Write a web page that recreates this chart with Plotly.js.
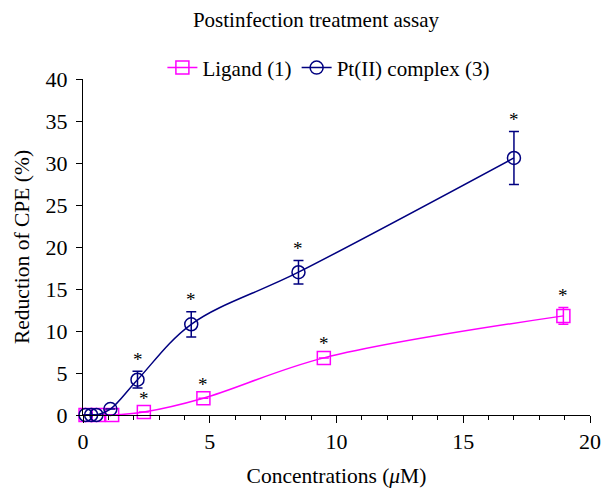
<!DOCTYPE html>
<html>
<head>
<meta charset="utf-8">
<script src="https://cdn.plot.ly/plotly-3.0.1.min.js"></script>
<style>html,body{margin:0;padding:0;background:#fff;}#chart{width:603px;height:488px;}</style>
</head>
<body>
<div id="chart"></div>
<script>
// Ligand (1)
const ligandX = [0.1, 0.6, 1.15, 2.4, 4.75, 9.5, 18.95];
const ligandY = [0, 0, 0, 0.35, 2.0, 6.8, 11.8];
const ligandErr = [0, 0, 0, 0, 0, 0, 1.0];
const ligandSig = [false, false, false, true, true, true, true];
// Pt(II) complex (3)
const ptX = [0.1, 0.32, 0.53, 1.08, 2.15, 4.27, 8.5, 17.0];
const ptY = [0, 0, 0, 0.7, 4.2, 10.8, 17.0, 30.6];
const ptErr = [0, 0, 0, 0, 1.0, 1.5, 1.4, 3.15];
const ptSig = [false, false, false, false, true, true, true, true];

const magenta = '#ff00ff';
const navy = '#000080';
const font = 'Liberation Serif';

const traces = [
  {
    x: ligandX, y: ligandY, name: 'Ligand (1)', type: 'scatter', mode: 'lines+markers',
    line: {color: magenta, width: 1.5, shape: 'spline', smoothing: 1},
    marker: {symbol: 'square-open', size: 13, color: magenta, line: {width: 1.5, color: magenta}},
    error_y: {type: 'data', array: ligandErr, visible: true, color: magenta, thickness: 1.5, width: 5},
    cliponaxis: false
  },
  {
    x: ptX, y: ptY, name: 'Pt(II) complex (3)', type: 'scatter', mode: 'lines+markers',
    line: {color: navy, width: 1.5, shape: 'spline', smoothing: 1},
    marker: {symbol: 'circle-open', size: 13, color: navy, line: {width: 1.5, color: navy}},
    error_y: {type: 'data', array: ptErr, visible: true, color: navy, thickness: 1.5, width: 5},
    cliponaxis: false
  }
];

const annotations = [];
function addStars(xs, ys, errs, sig, noErrShift, errShift) {
  for (let i = 0; i < xs.length; i++) {
    if (!sig[i]) continue;
    annotations.push({
      x: xs[i], y: ys[i] + errs[i], xref: 'x', yref: 'y',
      text: '*', showarrow: false,
      yshift: errs[i] > 0 ? errShift : noErrShift,
      font: {family: font, size: 19, color: '#000'}
    });
  }
}
addStars(ligandX, ligandY, ligandErr, ligandSig, 14, 12);
addStars(ptX, ptY, ptErr, ptSig, 14, 12);

const layout = {
  width: 603, height: 488,
  margin: {l: 83, r: 13, t: 79, b: 73},
  paper_bgcolor: '#fff', plot_bgcolor: '#fff',
  font: {family: font, size: 21, color: '#000'},
  title: {text: 'Postinfection treatment assay', x: 0.524, xanchor: 'center', y: 0.959, yanchor: 'middle',
          font: {family: font, size: 21, color: '#000'}},
  showlegend: true,
  legend: {orientation: 'h', x: 0.485, xanchor: 'center', y: 1.033, yanchor: 'middle',
           font: {family: font, size: 21}, tracegroupgap: 0},
  xaxis: {
    range: [0, 20], dtick: 5, tick0: 0, ticks: 'outside', ticklen: 7, tickwidth: 1, tickcolor: '#000',
    showline: true, linecolor: '#000', linewidth: 1, showgrid: false, zeroline: false,
    minor: {dtick: 1, ticks: 'outside', ticklen: 4, tickcolor: '#000', tickwidth: 1, showgrid: false},
    tickfont: {family: font, size: 22},
    title: {text: 'Concentrations (<i>μ</i>M)', font: {family: font, size: 21.5}, standoff: 16}
  },
  yaxis: {
    range: [0, 40], dtick: 5, tick0: 0, ticks: 'outside', ticklen: 6, tickwidth: 1, tickcolor: '#000',
    showline: true, linecolor: '#000', linewidth: 1, showgrid: false, zeroline: false,
    tickfont: {family: font, size: 22}, ticklabelstandoff: 4,
    title: {text: 'Reduction of CPE (%)', font: {family: font, size: 21.5}, standoff: 10}
  },
  annotations: annotations
};

Plotly.newPlot('chart', traces, layout, {displayModeBar: false, staticPlot: true});
</script>
</body>
</html>
